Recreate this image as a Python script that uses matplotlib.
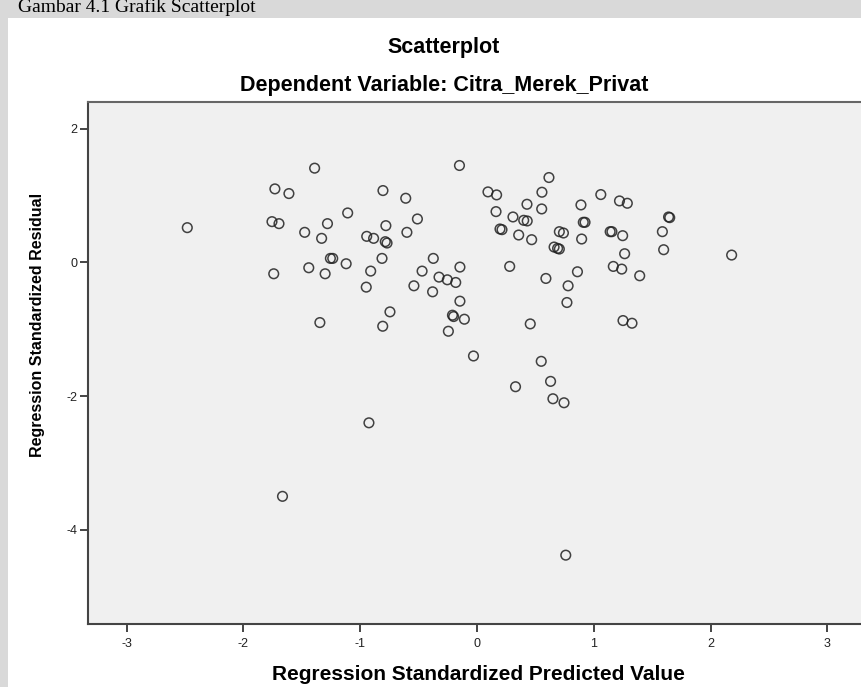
import matplotlib
matplotlib.use("Agg")
import matplotlib.pyplot as plt
from matplotlib.patches import Rectangle

# Regression standardized predicted value (x) and residual (y)
predicted = [
    -2.48, -1.39, -1.73, -1.61, -1.755, -1.695, -1.28, -1.475, -1.33, -1.255,
    -1.235, -1.44, -1.74, -1.30, -1.345, -0.15, -0.805, -0.61, 0.094, 0.168,
    0.163, 0.197, 0.214, -1.107, -0.78, -0.51, -0.944, -0.885, -0.785, -0.77,
    -0.60, -1.12, -0.813, -0.91, -0.948, -0.374, -0.47, -0.146, -0.325, -0.254,
    -0.182, -0.54, -0.38, -0.146, -0.21, -0.20, -0.108, -0.245, -0.745, -0.807,
    0.616, 0.556, 0.428, 0.554, 0.308, 0.40, 0.43, 0.357, 0.468, 0.28,
    0.59, 0.456, 0.705, 0.74, 0.66, 0.69, 0.705, 0.89, 0.91, 0.925,
    0.896, 0.86, 0.78, 0.77, 1.06, 1.22, 1.287, 1.14, 1.155, 1.247,
    1.264, 1.167, 1.239, 1.393, 1.25, 1.327, 1.64, 1.65, 1.587, 1.598,
    2.18, -0.03, 0.33, 0.55, 0.63, 0.65, 0.745, -0.925, -1.665, 0.76,
]
residual = [
    0.52, 1.41, 1.10, 1.03, 0.61, 0.58, 0.58, 0.45, 0.36, 0.06,
    0.06, -0.08, -0.17, -0.17, -0.90, 1.45, 1.075, 0.96, 1.055, 1.01,
    0.76, 0.50, 0.49, 0.74, 0.55, 0.65, 0.39, 0.36, 0.31, 0.29,
    0.45, -0.02, 0.06, -0.13, -0.37, 0.06, -0.13, -0.07, -0.22, -0.26,
    -0.30, -0.35, -0.44, -0.58, -0.79, -0.81, -0.85, -1.03, -0.74, -0.955,
    1.27, 1.05, 0.87, 0.80, 0.68, 0.63, 0.62, 0.41, 0.34, -0.06,
    -0.24, -0.92, 0.46, 0.44, 0.23, 0.21, 0.20, 0.86, 0.60, 0.60,
    0.35, -0.14, -0.35, -0.60, 1.015, 0.92, 0.885, 0.46, 0.46, 0.40,
    0.13, -0.06, -0.10, -0.20, -0.87, -0.91, 0.68, 0.67, 0.46, 0.19,
    0.11, -1.40, -1.86, -1.48, -1.78, -2.04, -2.10, -2.40, -3.50, -4.38,
]
x_ticks = [-3, -2, -1, 0, 1, 2, 3]
y_ticks = [2, 0, -2, -4]

W, H = 862, 687
fig = plt.figure(figsize=(W / 100, H / 100), dpi=100, facecolor="#d9d9d9")

# white chart panel (screenshot area), kept behind the axes
panel = Rectangle((8 / W, 0), 1, 1 - 18 / H, transform=fig.transFigure,
                  facecolor="white", edgecolor="none", zorder=-10)
fig.add_artist(panel)

fig.text(18 / W, 1 - 12 / H, "Gambar 4.1 Grafik Scatterplot", family="Liberation Serif",
         fontsize=14, va="baseline", ha="left", color="black")

ax = fig.add_axes([88 / W, 1 - 624 / H, (W - 88) / W, (624 - 102) / H])
ax.set_facecolor("#f0f0f0")
ax.scatter(predicted, residual, s=48, facecolors="none", edgecolors="#222222",
           linewidths=1.1, alpha=0.85, zorder=3)

ax.set_xlim(-3.33, 3.296)
ax.set_ylim(-5.41, 2.40)
ax.set_xticks(x_ticks)
ax.set_yticks(y_ticks)
ax.set_xticklabels([str(t) for t in x_ticks])
ax.set_yticklabels([str(t) for t in y_ticks])
ax.tick_params(axis="x", direction="out", length=6, width=1.4, color="#444444",
               pad=4, labelsize=9, labelcolor="#222222")
ax.tick_params(axis="y", direction="out", length=6, width=1.4, color="#444444",
               pad=1.5, labelsize=9, labelcolor="#222222")
for lab in ax.get_xticklabels() + ax.get_yticklabels():
    lab.set_family("Liberation Sans")

for side in ("left", "bottom"):
    ax.spines[side].set_color("#444444")
    ax.spines[side].set_linewidth(1.5)
ax.spines["top"].set_color("#666666")
ax.spines["top"].set_linewidth(1.5)
ax.spines["right"].set_visible(False)

fig.text(444 / W, 1 - 47 / H, "Scatterplot", ha="center", va="center",
         family="Liberation Sans", fontsize=15.5, fontweight="bold", color="black")
fig.text(444 / W, 1 - 86 / H, "Dependent Variable: Citra_Merek_Privat", ha="center",
         va="center", family="Liberation Sans", fontsize=15.5, fontweight="bold",
         color="black")
fig.text(478 / W, 1 - 675 / H, "Regression Standardized Predicted Value", ha="center",
         va="center", family="Liberation Sans", fontsize=15, fontweight="bold")
fig.text(38 / W, 1 - 325 / H, "Regression Standardized Residual", ha="center",
         va="center", rotation=90, family="Liberation Sans", fontsize=11.5,
         fontweight="bold")

fig.savefig("out.png", dpi=100, facecolor=fig.get_facecolor())
